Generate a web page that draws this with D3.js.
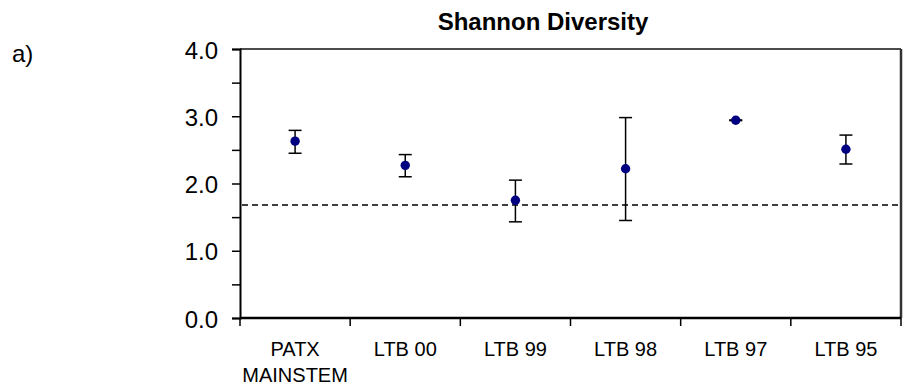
<!DOCTYPE html>
<html>
<head>
<meta charset="utf-8">
<script src="https://cdn.jsdelivr.net/npm/d3@7"></script>
<style>
  html, body { margin: 0; padding: 0; background: #fff; }
  svg { display: block; font-family: Arial, "Liberation Sans", sans-serif; }
</style>
</head>
<body>
<svg id="chart" width="904" height="388"></svg>
<script>
// Sampling sites and their Shannon diversity (mean with lower/upper error limits)
const sites = ["PATX\nMAINSTEM", "LTB 00", "LTB 99", "LTB 98", "LTB 97", "LTB 95"];
const meanH = [2.63, 2.27, 1.75, 2.22, 2.94, 2.51];
const lowerH = [2.45, 2.10, 1.43, 1.45, 2.935, 2.29];
const upperH = [2.79, 2.43, 2.05, 2.98, 2.945, 2.72];
const referenceH = 1.68;
const yTickValues = [0, 0.5, 1, 1.5, 2, 2.5, 3, 3.5, 4];

const svg = d3.select("#chart");
const plot = { left: 240, right: 901, top: 49, bottom: 318 };

const x = d3.scaleBand().domain(sites).range([plot.left, plot.right]);
const y = d3.scaleLinear().domain([0, 4]).range([plot.bottom, plot.top]);

// Title and panel letter
svg.append("text")
  .attr("x", 543).attr("y", 30)
  .attr("text-anchor", "middle")
  .attr("font-size", 24).attr("font-weight", "bold")
  .text("Shannon Diversity");

svg.append("text")
  .attr("x", 12).attr("y", 62)
  .attr("font-size", 24)
  .text("a)");

// Frame: top and right edges
svg.append("line")
  .attr("x1", plot.left).attr("x2", plot.right)
  .attr("y1", plot.top).attr("y2", plot.top)
  .attr("stroke", "#111").attr("stroke-width", 1.5);
svg.append("line")
  .attr("x1", plot.right).attr("x2", plot.right)
  .attr("y1", plot.top).attr("y2", plot.bottom)
  .attr("stroke", "#333").attr("stroke-width", 2.5);

// Y axis: ticks every 0.5, labels on whole numbers
const yAxis = d3.axisLeft(y)
  .tickValues(yTickValues)
  .tickSize(8)
  .tickPadding(14)
  .tickFormat(d => Number.isInteger(d) ? d3.format(".1f")(d) : "");
const gy = svg.append("g")
  .attr("transform", `translate(${plot.left},0)`)
  .call(yAxis);
gy.select(".domain").attr("stroke", "#000").attr("stroke-width", 2);
gy.selectAll(".tick line").attr("stroke", "#000").attr("stroke-width", 1.5);
gy.selectAll(".tick text")
  .attr("font-size", 24).attr("fill", "#000")
  .attr("dy", "0.38em")
  .attr("font-family", "Arial, 'Liberation Sans', sans-serif");

// X axis: ticks between categories
const edges = sites.map(s => x(s)).concat([x.range()[1]]);
const gx = svg.append("g");
gx.append("line")
  .attr("x1", plot.left).attr("x2", plot.right)
  .attr("y1", plot.bottom).attr("y2", plot.bottom)
  .attr("stroke", "#000").attr("stroke-width", 2.5);
gx.selectAll("line.tick")
  .data(edges)
  .join("line")
  .attr("class", "tick")
  .attr("x1", d => d).attr("x2", d => d)
  .attr("y1", plot.bottom).attr("y2", plot.bottom + 8)
  .attr("stroke", "#000").attr("stroke-width", 1.5);

const labels = gx.selectAll("text.site")
  .data(sites)
  .join("text")
  .attr("class", "site")
  .attr("text-anchor", "middle")
  .attr("font-size", 20)
  .attr("transform", d => `translate(${x(d) + x.bandwidth() / 2},356)`);
labels.selectAll("tspan")
  .data(d => d.split("\n"))
  .join("tspan")
  .attr("x", 0)
  .attr("dy", (d, i) => i === 0 ? 0 : 26)
  .text(d => d);

// Reference level
svg.append("line")
  .attr("x1", plot.left + 2).attr("x2", plot.right)
  .attr("y1", y(referenceH)).attr("y2", y(referenceH))
  .attr("stroke", "#000").attr("stroke-width", 1.5)
  .attr("stroke-dasharray", "6,4");

// Error bars
const rows = sites.map((s, i) => ({ site: s, mean: meanH[i], lo: lowerH[i], hi: upperH[i] }));
const cx = d => x(d.site) + x.bandwidth() / 2;
const bars = svg.append("g").attr("stroke", "#000").attr("stroke-width", 1.5);
bars.selectAll("line.stem")
  .data(rows).join("line").attr("class", "stem")
  .attr("x1", cx).attr("x2", cx)
  .attr("y1", d => y(d.lo)).attr("y2", d => y(d.hi));
bars.selectAll("line.capHi")
  .data(rows).join("line").attr("class", "capHi")
  .attr("x1", d => cx(d) - 6.5).attr("x2", d => cx(d) + 6.5)
  .attr("y1", d => y(d.hi)).attr("y2", d => y(d.hi));
bars.selectAll("line.capLo")
  .data(rows).join("line").attr("class", "capLo")
  .attr("x1", d => cx(d) - 6.5).attr("x2", d => cx(d) + 6.5)
  .attr("y1", d => y(d.lo)).attr("y2", d => y(d.lo));

// Means
svg.append("g").selectAll("circle")
  .data(rows).join("circle")
  .attr("cx", cx)
  .attr("cy", d => y(d.mean))
  .attr("r", 4.7)
  .attr("fill", "#000080");
</script>
</body>
</html>
